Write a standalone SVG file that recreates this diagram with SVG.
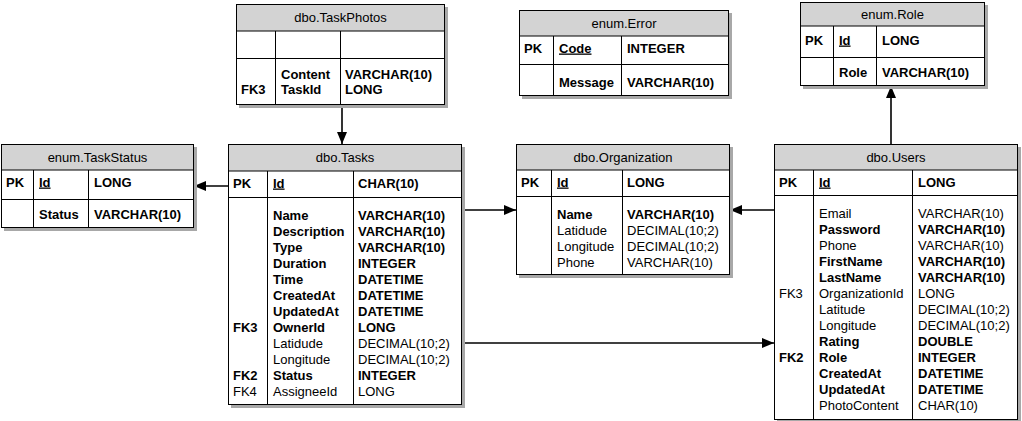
<svg xmlns="http://www.w3.org/2000/svg" width="1022" height="421" viewBox="0 0 1022 421">
<defs>
<style>
.sh{fill:#a8a8a8;stroke:none}
.bx{fill:#fff;stroke:#000;stroke-width:1}
.hd{fill:#d3d3d3;stroke:#000;stroke-width:1}
.ln{stroke:#000;stroke-width:1;fill:none}
.cn{stroke:#000;stroke-width:1.6;fill:none}
text{font-family:"Liberation Sans",Arial,sans-serif;font-size:13px;fill:#000}
.b{font-weight:bold}
.u{text-decoration:underline}
.c{text-anchor:middle}
</style>
<marker id="ah" viewBox="0 0 12 10" refX="12" refY="5" markerWidth="12" markerHeight="10" markerUnits="userSpaceOnUse" orient="auto">
<path d="M0,0 L12,5 L0,10 Z" fill="#000"/>
</marker>
</defs>
<rect width="1022" height="421" fill="#fff"/>

<g id="connectors">
<line class="cn" x1="342" y1="105" x2="342" y2="144" marker-end="url(#ah)"/>
<line class="cn" x1="228" y1="186" x2="194" y2="186" marker-end="url(#ah)"/>
<line class="cn" x1="462" y1="210" x2="516" y2="210" marker-end="url(#ah)"/>
<line class="cn" x1="774" y1="210" x2="730" y2="210" marker-end="url(#ah)"/>
<line class="cn" x1="462" y1="343" x2="774" y2="343" marker-end="url(#ah)"/>
<line class="cn" x1="891" y1="144" x2="891" y2="86" marker-end="url(#ah)"/>
</g>

<g id="TaskPhotos">
<rect class="sh" x="239" y="7" width="209" height="101"/>
<rect class="bx" x="236.5" y="4.5" width="208" height="100"/>
<rect class="hd" x="236.5" y="4.5" width="208" height="26.5"/>
<line class="ln" x1="236.5" y1="58.5" x2="444.5" y2="58.5"/>
<line class="ln" x1="275.5" y1="31" x2="275.5" y2="104.5"/>
<line class="ln" x1="340.5" y1="31" x2="340.5" y2="104.5"/>
<text class="c" x="340.5" y="22">dbo.TaskPhotos</text>
<text class="b" x="241" y="94">FK3</text>
<text class="b" x="281" y="79">Content</text>
<text class="b" x="281" y="94">TaskId</text>
<text class="b" x="345" y="79">VARCHAR(10)</text>
<text class="b" x="345" y="94">LONG</text>
</g>

<g id="Error">
<rect class="sh" x="522" y="13" width="210" height="86"/>
<rect class="bx" x="519.5" y="10.5" width="209" height="85"/>
<rect class="hd" x="519.5" y="10.5" width="209" height="25.5"/>
<line class="ln" x1="519.5" y1="64.5" x2="728.5" y2="64.5"/>
<line class="ln" x1="553.5" y1="36" x2="553.5" y2="95.5"/>
<line class="ln" x1="621.5" y1="36" x2="621.5" y2="95.5"/>
<text class="c" x="624" y="28">enum.Error</text>
<text class="b" x="524" y="52.5">PK</text>
<text class="b u" x="559" y="52.5">Code</text>
<text class="b" x="627" y="52.5">INTEGER</text>
<text class="b" x="559" y="86.5">Message</text>
<text class="b" x="627" y="86.5">VARCHAR(10)</text>
</g>

<g id="Role">
<rect class="sh" x="803" y="5" width="185" height="84"/>
<rect class="bx" x="800.5" y="2.5" width="184" height="83"/>
<rect class="hd" x="800.5" y="2.5" width="184" height="23.5"/>
<line class="ln" x1="800.5" y1="57.5" x2="984.5" y2="57.5"/>
<line class="ln" x1="833.5" y1="26" x2="833.5" y2="85.5"/>
<line class="ln" x1="876.5" y1="26" x2="876.5" y2="85.5"/>
<text class="c" x="892.5" y="19">enum.Role</text>
<text class="b" x="805" y="44.5">PK</text>
<text class="b u" x="839" y="44.5">Id</text>
<text class="b" x="882" y="44.5">LONG</text>
<text class="b" x="839" y="76.5">Role</text>
<text class="b" x="882" y="76.5">VARCHAR(10)</text>
</g>

<g id="TaskStatus">
<rect class="sh" x="4" y="147" width="193" height="84"/>
<rect class="bx" x="1.5" y="144.5" width="192" height="83"/>
<rect class="hd" x="1.5" y="144.5" width="192" height="25.5"/>
<line class="ln" x1="1.5" y1="199.5" x2="193.5" y2="199.5"/>
<line class="ln" x1="33.5" y1="170" x2="33.5" y2="227.5"/>
<line class="ln" x1="88.5" y1="170" x2="88.5" y2="227.5"/>
<text class="c" x="97.5" y="162">enum.TaskStatus</text>
<text class="b" x="6" y="186.5">PK</text>
<text class="b u" x="39" y="186.5">Id</text>
<text class="b" x="94" y="186.5">LONG</text>
<text class="b" x="39" y="218.5">Status</text>
<text class="b" x="94" y="218.5">VARCHAR(10)</text>
</g>

<g id="Tasks">
<rect class="sh" x="231" y="147" width="234" height="261"/>
<rect class="bx" x="228.5" y="144.5" width="233" height="260"/>
<rect class="hd" x="228.5" y="144.5" width="233" height="26.5"/>
<line class="ln" x1="228.5" y1="197.5" x2="461.5" y2="197.5"/>
<line class="ln" x1="267.5" y1="171" x2="267.5" y2="404.5"/>
<line class="ln" x1="353.5" y1="171" x2="353.5" y2="404.5"/>
<text class="c" x="345" y="162">dbo.Tasks</text>
<text class="b" x="233" y="187.5">PK</text>
<text class="b u" x="273" y="187.5">Id</text>
<text class="b" x="358" y="187.5">CHAR(10)</text>
<text class="b" x="273" y="219.5">Name</text><text class="b" x="358" y="219.5">VARCHAR(10)</text>
<text class="b" x="273" y="235.5">Description</text><text class="b" x="358" y="235.5">VARCHAR(10)</text>
<text class="b" x="273" y="251.5">Type</text><text class="b" x="358" y="251.5">VARCHAR(10)</text>
<text class="b" x="273" y="267.5">Duration</text><text class="b" x="358" y="267.5">INTEGER</text>
<text class="b" x="273" y="283.5">Time</text><text class="b" x="358" y="283.5">DATETIME</text>
<text class="b" x="273" y="299.5">CreatedAt</text><text class="b" x="358" y="299.5">DATETIME</text>
<text class="b" x="273" y="315.5">UpdatedAt</text><text class="b" x="358" y="315.5">DATETIME</text>
<text class="b" x="233" y="331.5">FK3</text><text class="b" x="273" y="331.5">OwnerId</text><text class="b" x="358" y="331.5">LONG</text>
<text x="273" y="347.5">Latidude</text><text x="358" y="347.5">DECIMAL(10;2)</text>
<text x="273" y="363.5">Longitude</text><text x="358" y="363.5">DECIMAL(10;2)</text>
<text class="b" x="233" y="379.5">FK2</text><text class="b" x="273" y="379.5">Status</text><text class="b" x="358" y="379.5">INTEGER</text>
<text x="233" y="395.5">FK4</text><text x="273" y="395.5">AssigneeId</text><text x="358" y="395.5">LONG</text>
</g>

<g id="Organization">
<rect class="sh" x="519" y="147" width="214" height="131"/>
<rect class="bx" x="516.5" y="144.5" width="213" height="130"/>
<rect class="hd" x="516.5" y="144.5" width="213" height="25.5"/>
<line class="ln" x1="516.5" y1="196.5" x2="729.5" y2="196.5"/>
<line class="ln" x1="551.5" y1="170" x2="551.5" y2="274.5"/>
<line class="ln" x1="622.5" y1="170" x2="622.5" y2="274.5"/>
<text class="c" x="623" y="161.5">dbo.Organization</text>
<text class="b" x="521" y="186.5">PK</text>
<text class="b u" x="557" y="186.5">Id</text>
<text class="b" x="627" y="186.5">LONG</text>
<text class="b" x="557" y="218.5">Name</text><text class="b" x="627" y="218.5">VARCHAR(10)</text>
<text x="557" y="234.5">Latidude</text><text x="627" y="234.5">DECIMAL(10;2)</text>
<text x="557" y="250.5">Longitude</text><text x="627" y="250.5">DECIMAL(10;2)</text>
<text x="557" y="266.5">Phone</text><text x="627" y="266.5">VARCHAR(10)</text>
</g>

<g id="Users">
<rect class="sh" x="777" y="147" width="244" height="276"/>
<rect class="bx" x="774.5" y="144.5" width="243" height="275"/>
<rect class="hd" x="774.5" y="144.5" width="243" height="25.5"/>
<line class="ln" x1="774.5" y1="195.5" x2="1017.5" y2="195.5"/>
<line class="ln" x1="813.5" y1="170" x2="813.5" y2="419.5"/>
<line class="ln" x1="912.5" y1="170" x2="912.5" y2="419.5"/>
<text class="c" x="896" y="161.5">dbo.Users</text>
<text class="b" x="779" y="186.5">PK</text>
<text class="b u" x="819" y="186.5">Id</text>
<text class="b" x="918" y="186.5">LONG</text>
<text x="819" y="217.5">Email</text><text x="918" y="217.5">VARCHAR(10)</text>
<text class="b" x="819" y="233.5">Password</text><text class="b" x="918" y="233.5">VARCHAR(10)</text>
<text x="819" y="249.5">Phone</text><text x="918" y="249.5">VARCHAR(10)</text>
<text class="b" x="819" y="265.5">FirstName</text><text class="b" x="918" y="265.5">VARCHAR(10)</text>
<text class="b" x="819" y="281.5">LastName</text><text class="b" x="918" y="281.5">VARCHAR(10)</text>
<text x="779" y="297.5">FK3</text><text x="819" y="297.5">OrganizationId</text><text x="918" y="297.5">LONG</text>
<text x="819" y="313.5">Latitude</text><text x="918" y="313.5">DECIMAL(10;2)</text>
<text x="819" y="329.5">Longitude</text><text x="918" y="329.5">DECIMAL(10;2)</text>
<text class="b" x="819" y="345.5">Rating</text><text class="b" x="918" y="345.5">DOUBLE</text>
<text class="b" x="779" y="361.5">FK2</text><text class="b" x="819" y="361.5">Role</text><text class="b" x="918" y="361.5">INTEGER</text>
<text class="b" x="819" y="377.5">CreatedAt</text><text class="b" x="918" y="377.5">DATETIME</text>
<text class="b" x="819" y="393.5">UpdatedAt</text><text class="b" x="918" y="393.5">DATETIME</text>
<text x="819" y="409.5">PhotoContent</text><text x="918" y="409.5">CHAR(10)</text>
</g>
</svg>
